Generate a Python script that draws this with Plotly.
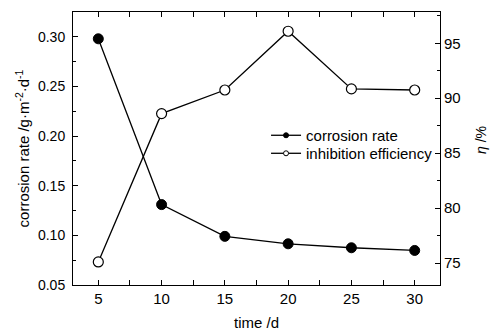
import plotly.graph_objects as go

time_d = [5, 10, 15, 20, 25, 30]
corrosion_rate = [0.298, 0.131, 0.099, 0.0915, 0.0875, 0.0848]
inhibition_eff = [75.1, 88.6, 90.75, 96.1, 90.85, 90.75]

FONT = "Liberation Sans, Arial, sans-serif"

fig = go.Figure()
fig.add_trace(go.Scatter(
    x=time_d, y=corrosion_rate, name="corrosion rate", mode="lines+markers",
    showlegend=False,
    line=dict(color="black", width=1.3),
    marker=dict(symbol="circle", size=10, color="black", line=dict(color="black", width=1)),
))
fig.add_trace(go.Scatter(
    x=time_d, y=inhibition_eff, name="inhibition efficiency", mode="lines+markers",
    yaxis="y2", showlegend=False,
    line=dict(color="black", width=1.3),
    marker=dict(symbol="circle", size=10, color="white", line=dict(color="black", width=1.2)),
))
# legend entries (small markers, as in the reference legend)
fig.add_trace(go.Scatter(
    x=[None], y=[None], name="corrosion rate", mode="lines+markers", legend="legend",
    line=dict(color="black", width=1.3),
    marker=dict(symbol="circle", size=5, color="black", line=dict(color="black", width=1)),
))
fig.add_trace(go.Scatter(
    x=[None], y=[None], name="inhibition efficiency", mode="lines+markers", legend="legend2",
    line=dict(color="black", width=1.3),
    marker=dict(symbol="circle", size=5, color="white", line=dict(color="black", width=1)),
))

axis_common = dict(
    showgrid=False, zeroline=False, showline=True, linecolor="black", linewidth=1,
    ticks="inside", ticklen=5, tickcolor="black",
)

legend_common = dict(xanchor="left", yanchor="top", bgcolor="rgba(0,0,0,0)",
                     font=dict(size=15), tracegroupgap=0, itemwidth=30)

fig.update_layout(
    width=493, height=330,
    margin=dict(l=73, r=53, t=12, b=45),
    paper_bgcolor="white", plot_bgcolor="white",
    font=dict(family=FONT, size=15, color="black"),
    xaxis=dict(range=[3, 32], dtick=5, tick0=0, mirror="allticks",
               tickfont=dict(size=15, color="black", family=FONT),
               minor=dict(ticks="inside", dtick=2.5, tick0=0, ticklen=3, tickcolor="black"),
               **axis_common),
    yaxis=dict(range=[0.05, 0.325], dtick=0.05, tick0=0, tickformat=".2f", mirror=True,
               tickfont=dict(size=14, color="black", family=FONT), ticklabelstandoff=4,
               minor=dict(ticks="inside", dtick=0.025, tick0=0, ticklen=3, tickcolor="black"),
               title=dict(text="corrosion rate /g·m<sup>-2</sup>·d<sup>-1</sup>", font=dict(size=15), standoff=4),
               **axis_common),
    yaxis2=dict(range=[73, 97.85], dtick=5, tick0=0, overlaying="y", side="right",
                tickfont=dict(size=15, color="black", family=FONT),
                minor=dict(ticks="inside", dtick=2.5, tick0=0, ticklen=3, tickcolor="black"),
                **axis_common),
    legend=dict(x=0.526, y=0.608, **legend_common),
    legend2=dict(x=0.526, y=0.542, **legend_common),
    showlegend=True,
    annotations=[
        dict(text="time /d", xref="paper", yref="paper", x=0.5, y=-(322 - 285) / 273,
             xanchor="center", yanchor="middle", showarrow=False, font=dict(size=15)),
        dict(text="<i>η</i> /%", xref="paper", yref="paper", x=1 + (481 - 440) / 367,
             y=(285 - 140) / 273, xanchor="center", yanchor="middle", textangle=-90,
             showarrow=False, font=dict(size=14)),
    ],
)

fig.write_html("out.html")
